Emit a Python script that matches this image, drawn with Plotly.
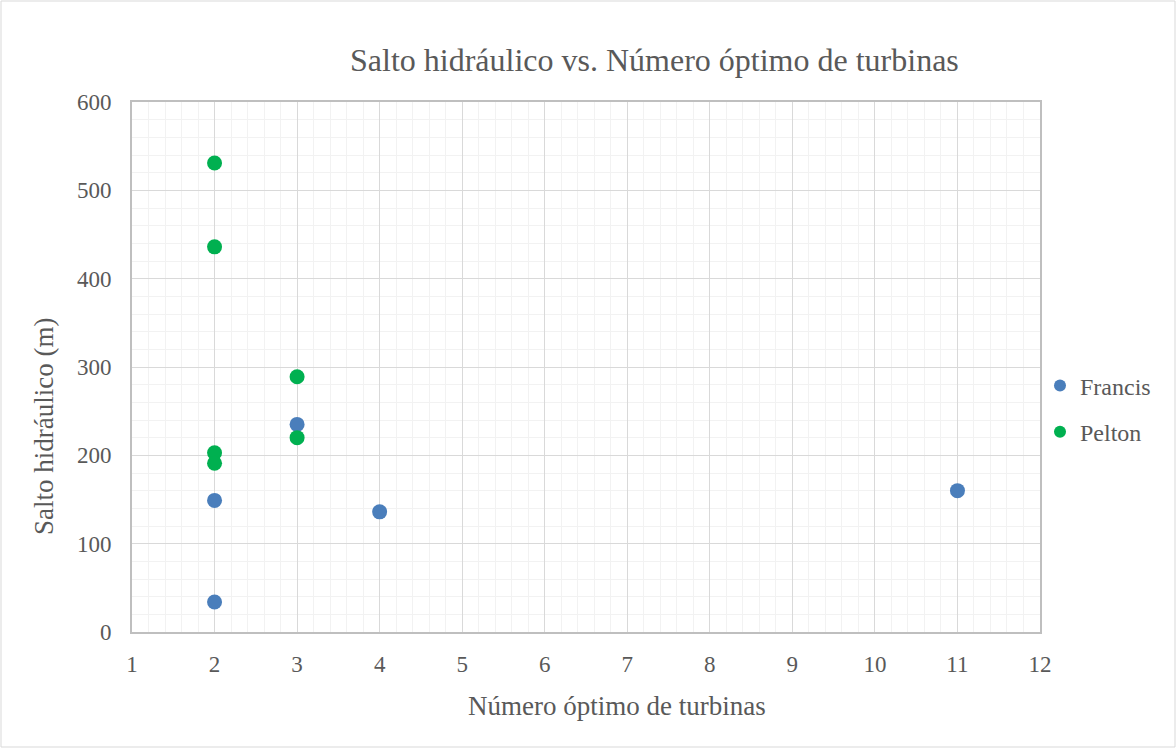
import plotly.graph_objects as go

# data
francis_turbinas = [3, 2, 4, 11, 2]
francis_salto = [235, 149, 136, 160, 34]
pelton_turbinas = [2, 2, 3, 3, 2, 2]
pelton_salto = [531, 436, 289, 220, 203, 191]

x_ticks = list(range(1, 13))
y_ticks = [0, 100, 200, 300, 400, 500, 600]

W, H = 1176, 748
L, R, T, B = 132, 136, 102, 116
pw, ph = W - L - R, H - T - B

font_fam = "Liberation Serif, Times New Roman, serif"
txt = "#595959"

fig = go.Figure()
fig.add_trace(go.Scatter(x=francis_turbinas, y=francis_salto, mode="markers", name="Francis",
                         legendgroup="f", marker=dict(color="#4A7EBB", size=15)))
fig.add_trace(go.Scatter(x=pelton_turbinas, y=pelton_salto, mode="markers", name="Pelton",
                         legendgroup="p", marker=dict(color="#00B050", size=15)))

fig.update_layout(
    width=W, height=H,
    margin=dict(l=L, r=R, t=T, b=B),
    paper_bgcolor="white", plot_bgcolor="white",
    font=dict(family=font_fam, color=txt, size=23),
    showlegend=True,
    legend=dict(x=(1040 - L) / pw, y=(632 - 409) / ph, xanchor="left", yanchor="middle",
                font=dict(size=24, color=txt), itemsizing="constant", itemwidth=30,
                tracegroupgap=12, bgcolor="rgba(0,0,0,0)"),
    xaxis=dict(range=[1, 12], tickvals=x_ticks, showgrid=True, gridcolor="#D9D9D9", gridwidth=1,
               minor=dict(dtick=0.2, showgrid=True, gridcolor="#F2F2F2", gridwidth=1),
               showline=True, linecolor="#BFBFBF", linewidth=2, mirror=True, zeroline=False,
               ticks="", ticklabelstandoff=10, tickfont=dict(size=23, color=txt)),
    yaxis=dict(range=[0, 600], tickvals=y_ticks, showgrid=True, gridcolor="#D9D9D9", gridwidth=1,
               minor=dict(dtick=20, showgrid=True, gridcolor="#F2F2F2", gridwidth=1),
               showline=True, linecolor="#BFBFBF", linewidth=2, mirror=True, zeroline=False,
               ticks="", ticklabelstandoff=14, tickfont=dict(size=23, color=txt)),
)

# title and axis titles placed as in the reference
fig.add_annotation(text="Salto hidráulico vs. Número óptimo de turbinas", xref="paper", yref="paper",
                   x=(654 - L) / pw, y=(632 - 60) / ph, xanchor="center", yanchor="middle",
                   showarrow=False, font=dict(size=32, color=txt, family=font_fam))
fig.add_annotation(text="Número óptimo de turbinas", xref="paper", yref="paper",
                   x=(617 - L) / pw, y=(632 - 706) / ph, xanchor="center", yanchor="middle",
                   showarrow=False, font=dict(size=27, color=txt, family=font_fam))
fig.add_annotation(text="Salto hidráulico (m)", xref="paper", yref="paper", textangle=-90,
                   x=(44 - L) / pw, y=(632 - 427) / ph, xanchor="center", yanchor="middle",
                   showarrow=False, font=dict(size=27, color=txt, family=font_fam))

# outer chart border
fig.add_shape(type="rect", xref="paper", yref="paper",
              x0=(1 - L) / pw, x1=(1175 - L) / pw, y0=(632 - 747) / ph, y1=(632 - 1) / ph,
              line=dict(color="#D9D9D9", width=1))

fig.write_html("out.html", config={"displayModeBar": False},
               post_script="document.body.style.margin='0px';")
